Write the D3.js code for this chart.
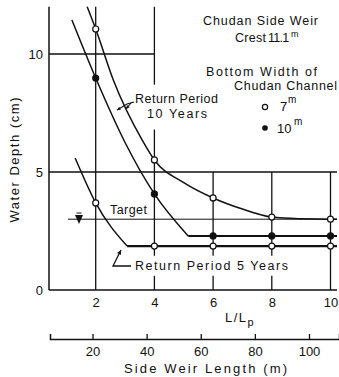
<!DOCTYPE html>
<html><head><meta charset="utf-8">
<script src="https://cdn.jsdelivr.net/npm/d3@7"></script>
<style>
html,body{margin:0;padding:0;background:#fff;}
svg{display:block;font-family:"Liberation Sans",Arial,sans-serif;}
</style></head>
<body>
<svg id="c" width="339" height="377"></svg>
<script>
// ---------- data ----------
const ratioTicks = [2, 4, 6, 8, 10];           // L/Lp
const depthTicks = [0, 5, 10];                 // water depth (cm)
const lengthTicks = [20, 40, 60, 80, 100];     // side weir length (m)
const targetDepth = 3.0;

// Return period 10 years, bottom width 7 m (open circles)
const r10w7 = [1.71, 2, 2.6, 3.58, 4, 5, 6, 7, 8, 9, 10, 10.22];
const d10w7 = [12.0, 11.06, 8.9, 6.36, 5.51, 4.55, 3.9, 3.43, 3.09, 3.02, 3.0, 3.0];
const m10w7 = [11.06, 5.51, 3.9, 3.09, 3.0];

// Return period 10 years, bottom width 10 m (filled circles)
const r10w10 = [1.19, 2, 3, 4, 5.15];
const d10w10 = [11.44, 8.98, 6.25, 4.07, 2.29];
const flat10w10 = 2.29;
const m10w10 = [8.98, 4.07, 2.29, 2.29, 2.29];

// Return period 5 years, bottom width 7 m (open circles)
const r5w7 = [1.3, 2, 3.07];
const d5w7 = [5.59, 3.69, 1.86];
const flat5w7 = 1.86;
const m5w7 = [3.69, 1.86, 1.86, 1.86, 1.86];

// ---------- scales ----------
const svg = d3.select("#c");
const x = d3.scaleLinear().domain([0, 10]).range([37, 330.5]);
const y = d3.scaleLinear().domain([0, 12]).range([290, 6.8]);
const xL0 = d3.scaleLinear().domain([0, 100]).range([38.4, 309]);
const xL = d3.scaleLinear().domain([xL0.invert(50), xL0.invert(339)]).range([50, 339]);
const xMin = x.invert(49), xMax = x.invert(337);

const ink = "#111";
const FONT = "Liberation Sans, Arial, sans-serif";
const g = svg.append("g");

function seg(x1, y1, x2, y2, w) {
  g.append("line").attr("x1", x1).attr("y1", y1).attr("x2", x2).attr("y2", y2)
    .attr("stroke", ink).attr("stroke-width", w || 1.4);
}

// axes frame
seg(x(xMin), y(12), x(xMin), y(0), 1.5);
seg(x(xMin), y(0), x(xMax), y(0), 1.5);
// horizontal grid
seg(x(xMin), y(10), x(4), y(10), 1.5);
seg(x(xMin), y(5), x(xMax), y(5), 1.5);
seg(68, y(targetDepth), x(xMax), y(targetDepth), 1);

// vertical grid (with gaps around labels)
seg(x(2), y(12), x(2), y(0), 1.3);
seg(x(4), y(12), x(4), y(8.7), 1.3);
seg(x(4), y(6.8), x(4), y(1.45), 1.3);
seg(x(4), y(0.6), x(4), y(0), 1.3);
[6, 8].forEach(r => {
  seg(x(r), y(5), x(r), y(1.45), 1.3);
  seg(x(r), y(0.6), x(r), y(0), 1.3);
});
seg(x(10), y(5), x(10), y(0), 1.3);

// curves
const line = d3.line().x(d => x(d[0])).y(d => y(d[1]));
function curve(rs, ds, w) {
  g.append("path").attr("d", line.curve(d3.curveMonotoneX)(rs.map((r, i) => [r, ds[i]])))
    .attr("fill", "none").attr("stroke", ink).attr("stroke-width", w || 1.5);
}
curve(r10w7, d10w7, 1.5);
curve(r10w10, d10w10, 1.5);
seg(x(r10w10[r10w10.length - 1]), y(flat10w10), x(xMax), y(flat10w10), 2);
curve(r5w7, d5w7, 1.5);
seg(x(r5w7[r5w7.length - 1]), y(flat5w7), x(xMax), y(flat5w7), 2.2);

// markers
function markers(vals, filled) {
  g.selectAll(null).data(ratioTicks.map((r, i) => [r, vals[i]])).join("circle")
    .attr("cx", d => x(d[0])).attr("cy", d => y(d[1])).attr("r", 3)
    .attr("fill", filled ? ink : "#fff").attr("stroke", ink).attr("stroke-width", 1.2);
}
markers(m10w7, false);
markers(m10w10, true);
markers(m5w7, false);

// water level symbol
g.append("path").attr("d", "M75,215 L83,215 L79,224 Z").attr("fill", ink);
seg(76.5, 213, 81.5, 213, 1);

// axes ticks (L/Lp)
const axR = d3.axisBottom(x).tickValues(ratioTicks).tickSize(0).tickPadding(8);
svg.append("g").attr("transform", "translate(0,290)").call(axR)
  .call(s => s.select(".domain").remove())
  .selectAll("text").attr("font-size", 13).attr("fill", ink).attr("font-family", FONT);

const axY = d3.axisLeft(y).tickValues(depthTicks).tickSize(0).tickPadding(6);
svg.append("g").attr("transform", "translate(49,0)").call(axY)
  .call(s => s.select(".domain").remove())
  .selectAll("text").attr("font-size", 13).attr("fill", ink).attr("font-family", FONT);

const axL = d3.axisBottom(xL).tickValues(lengthTicks).tickSizeInner(-5).tickSizeOuter(-5).tickPadding(8);
const axLg = svg.append("g").attr("transform", "translate(0,339)").call(axL);
axLg.select(".domain").attr("stroke", ink).attr("stroke-width", 1.5);
axLg.selectAll(".tick line").attr("stroke", ink).attr("stroke-width", 1.3);
axLg.selectAll("text").attr("font-size", 13).attr("fill", ink).attr("font-family", FONT);

// ---------- text ----------
function txt(s, tx, ty, len, fs) {
  return svg.append("text").attr("x", tx).attr("y", ty).attr("font-size", fs || 12.5)
    .attr("fill", ink).attr("textLength", len).attr("lengthAdjust", "spacing").text(s);
}
txt("Chudan Side Weir", 203, 25, 115);
const crest = svg.append("text").attr("x", 235).attr("y", 42).attr("font-size", 12.5).attr("fill", ink);
crest.append("tspan").text("Crest").attr("letter-spacing", 0.3);
crest.append("tspan").attr("x", 268).text("11.1").attr("letter-spacing", -0.7);
crest.append("tspan").attr("x", 291).attr("dy", -5).attr("font-size", 9).text("m");

txt("Bottom Width of", 206, 76, 111);
txt("Chudan Channel", 234, 90, 103);
svg.append("circle").attr("cx", 265).attr("cy", 107).attr("r", 2.6).attr("fill", "#fff").attr("stroke", ink).attr("stroke-width", 1.2);
svg.append("circle").attr("cx", 265).attr("cy", 128).attr("r", 2.8).attr("fill", ink);
const t7 = svg.append("text").attr("x", 280).attr("y", 111).attr("font-size", 13).attr("fill", ink);
t7.append("tspan").text("7");
t7.append("tspan").attr("x", 288).attr("dy", -8).attr("font-size", 10).text("m");
const t10 = svg.append("text").attr("x", 277).attr("y", 133).attr("font-size", 13).attr("fill", ink);
t10.append("tspan").text("10");
t10.append("tspan").attr("x", 294).attr("dy", -8).attr("font-size", 10).text("m");

txt("Return Period", 135, 103, 83);
txt("10 Years", 147, 118, 60);
txt("Target", 110, 214, 37);
txt("Return Period 5 Years", 135, 270, 153);

const ll = svg.append("text").attr("x", 225).attr("y", 322).attr("font-size", 13).attr("fill", ink);
ll.append("tspan").text("L/L").attr("letter-spacing", 1.5);
ll.append("tspan").attr("dy", 4).attr("font-size", 11).text("p");

txt("Side Weir Length (m)", 124, 373, 163, 13);
svg.append("text").attr("transform", "translate(19,160) rotate(-90)").attr("text-anchor", "middle")
  .attr("font-size", 13).attr("fill", ink).attr("textLength", 125).attr("lengthAdjust", "spacing")
  .text("Water Depth (cm)");

// leader arrows
function arrowHead(x1, y1, x2, y2, size) {
  const a = Math.atan2(y2 - y1, x2 - x1), s = size || 4;
  const p = [[x2, y2],
    [x2 - s * Math.cos(a - 0.45), y2 - s * Math.sin(a - 0.45)],
    [x2 - s * Math.cos(a + 0.45), y2 - s * Math.sin(a + 0.45)]];
  svg.append("path").attr("d", "M" + p.map(q => q.join(",")).join("L") + "Z").attr("fill", ink);
}
function poly(pts, w) {
  svg.append("path").attr("d", "M" + pts.map(q => q.join(",")).join("L"))
    .attr("fill", "none").attr("stroke", ink).attr("stroke-width", w || 1.1);
}
poly([[134, 102], [127, 104], [117, 110]]);
arrowHead(127, 104, 117, 110);
poly([[131, 103], [126, 109]]);
arrowHead(131, 103, 126, 109);
poly([[131, 266], [113, 266], [121, 250]], 1.3);
arrowHead(113, 266, 121, 250, 5);
</script>
</body></html>
